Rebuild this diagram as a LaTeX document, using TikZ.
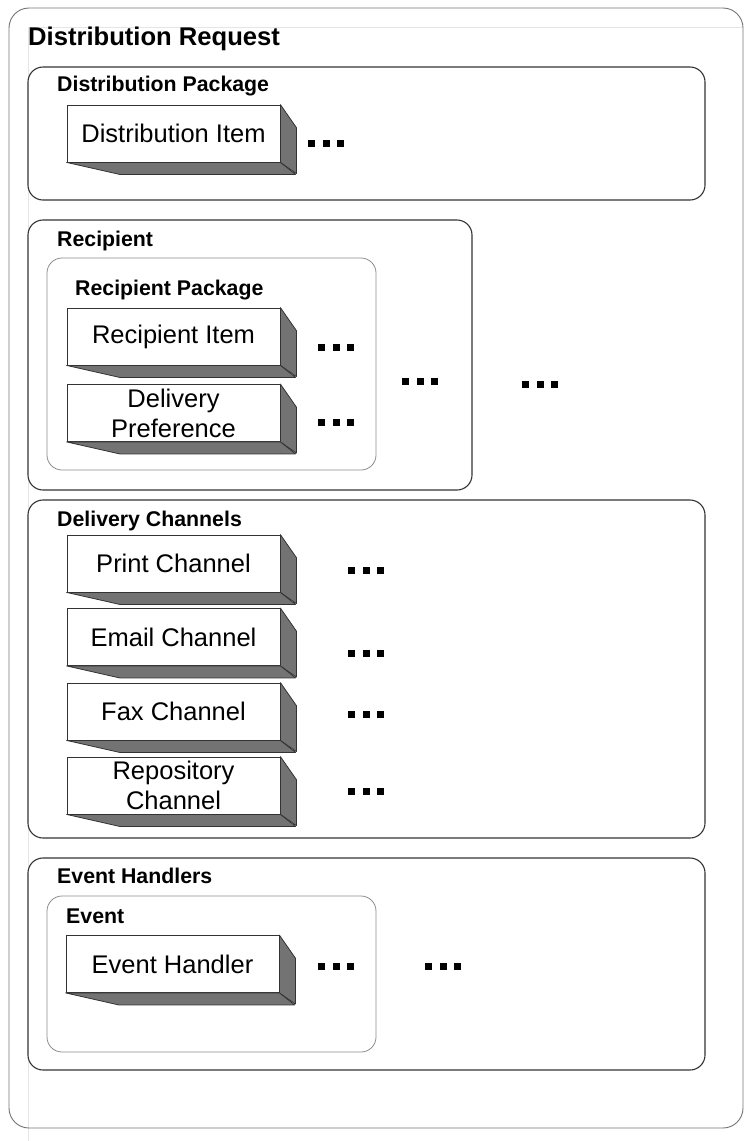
\documentclass[tikz,border=0pt]{standalone}
\usepackage{fontspec}
\setmainfont{Liberation Sans}
\usetikzlibrary{positioning}

\tikzset{
  reqbox/.style={draw=black!55, line width=0.9pt, rounded corners=20pt},
  pkgbox/.style={draw=black!80, fill=white, line width=1.1pt, rounded corners=15pt},
  innerbox/.style={draw=black!45, fill=white, line width=0.8pt, rounded corners=15pt},
  pkglabel/.style={anchor=base west, inner sep=0pt, font=\fontsize{21.3}{24}\selectfont\bfseries},
  item/.style={draw=black!80, fill=white, line width=0.8pt, minimum width=213pt,
    minimum height=57pt, inner sep=0pt, align=center, font=\fontsize{25.5}{30}\selectfont},
  itemside/.style={draw=black!80, fill=black!55, line width=0.8pt, line join=round},
}

% front face plus shaded side and bottom
\newcommand{\itembox}[3]{%
  \node[item] (#1) at (#2) {#3};
  \draw[itemside] (#1.north east) -- ++(16,23) -- ++(0,46) -- (#1.south east) -- cycle;
  \draw[itemside] (#1.south west) -- ++(53,12) -- ++(176,0) -- (#1.south east) -- cycle;
}
% three square dots
\newcommand{\moredots}[2]{%
  \foreach \k in {0,1,2}
    {\fill (#1+14.5*\k,#2-3.5) rectangle ++(7,7);}
}

\begin{document}
\begin{tikzpicture}[x=1pt,y=-1pt]
        \useasboundingbox (0,0) rectangle (749,1141);
        \draw[black!10, line width=1pt] (28,27) -- (742,27);
        \draw[black!10, line width=1pt] (28,27) -- (28,1141);
        \draw[reqbox] (9,8) rectangle (743,1128);
        \node[pkglabel, font=\fontsize{25.6}{30}\selectfont\bfseries] (request) at (28,45) {Distribution Request};

        % distribution package
        \draw[pkgbox] (28,67) rectangle (705,200);
        \node[pkglabel] (distpkg) at (57,91) {Distribution Package};
        \itembox{distitem}{173.5,133.5}{Distribution Item}
        \moredots{308}{143}

        % recipient
        \draw[pkgbox] (28,220) rectangle (472,490);
        \node[pkglabel] (recip) at (57,246) {Recipient};
        \draw[innerbox] (47,258) rectangle (376,470);
        \node[pkglabel] (recippkg) at (75,295) {Recipient Package};
        \itembox{recipitem}{173.5,336.5}{Recipient Item}
        \itembox{delivpref}{173.5,413}{Delivery\\Preference}
        \moredots{318}{347}
        \moredots{318}{422}
        \moredots{402}{381}
        \moredots{522}{384}

        % delivery channels
        \draw[pkgbox] (28,500) rectangle (705,838);
        \node[pkglabel] (channels) at (57,526) {Delivery Channels};
        \itembox{print}{173.5,563.5}{Print Channel}
        \itembox{email}{173.5,637}{Email Channel}
        \itembox{fax}{173.5,711.5}{Fax Channel}
        \itembox{repo}{173.5,785.5}{Repository\\Channel}
        \foreach \y in {570,653,714,791}
          {\moredots{348}{\y}}

        % event handlers
        \draw[pkgbox] (28,858) rectangle (705,1070);
        \node[pkglabel] (handlers) at (57,883) {Event Handlers};
        \draw[innerbox] (47,896) rectangle (376,1052);
        \node[pkglabel] (event) at (66,923) {Event};
        \itembox{evhandler}{172.5,964}{Event Handler}
        \moredots{318}{966}
        \moredots{425}{966}
\end{tikzpicture}
\end{document}
